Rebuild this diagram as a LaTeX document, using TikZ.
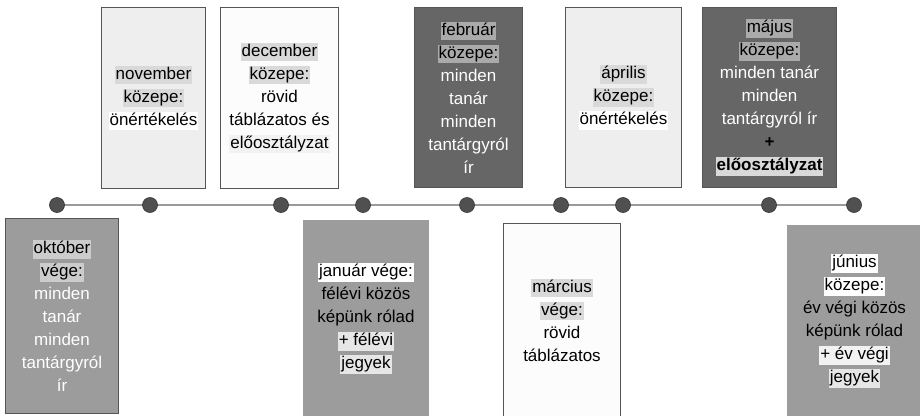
\documentclass[tikz,border=0pt]{standalone}
\usepackage{fontspec}
\setmainfont{Liberation Sans}
\definecolor{boxline}{HTML}{555555}
\definecolor{midgray}{HTML}{9C9C9C}
\definecolor{darkgray}{HTML}{666666}
\definecolor{palegray}{HTML}{EEEEEE}
\definecolor{whitish}{HTML}{FCFCFC}
\definecolor{hlA}{HTML}{CCCCCC}
\definecolor{hlB}{HTML}{D9D9D9}
\definecolor{hlC}{HTML}{AAAAAA}
\definecolor{hlD}{HTML}{E6E6E6}
\definecolor{hlE}{HTML}{F2F2F2}
\definecolor{dotfill}{HTML}{505050}
\definecolor{tline}{HTML}{9A9A9A}
\newcommand\hlt[2]{{\setlength{\fboxsep}{1pt}\colorbox{#1}{\rule[-4pt]{0pt}{16pt}#2}}}
\tikzset{
  evbox/.style={draw=boxline, line width=1pt, anchor=north west, inner sep=0pt,
    align=center, font=\fontsize{17}{23}\selectfont},
  tdot/.style={circle, fill=dotfill, draw=black!80, line width=0.6pt, minimum size=15pt, inner sep=0pt},
}
\begin{document}
\begin{tikzpicture}[x=1pt,y=-1pt]
\useasboundingbox (0,0) rectangle (920,415);
% timeline
\foreach \n/\x in {d1/57,d2/150,d3/281,d4/363,d5/467,d6/561,d7/623,d8/769,d9/854}
  \coordinate (\n) at (\x,205);
\draw[tline, line width=1.5pt] (d1) -- (d9);
\foreach \n in {d1,d2,d3,d4,d5,d6,d7,d8,d9}
  \node[tdot] (\n c) at (\n) {};
% boxes
\node[evbox, fill=midgray, minimum width=113, minimum height=195] (okt) at (5,218)
  {\hlt{hlA}{október}\\ \hlt{hlA}{vége:}\\ \textcolor{white}{minden}\\ \textcolor{white}{tanár}\\ \textcolor{white}{minden}\\ \textcolor{white}{tantárgyról}\\ \textcolor{white}{ír}};
\node[evbox, fill=palegray, minimum width=104, minimum height=181] (nov) at (101,7)
  {\hlt{hlB}{november}\\ \hlt{hlB}{közepe:}\\ \hlt{white}{önértékelés}};
\node[evbox, fill=whitish, minimum width=118, minimum height=181] (dec) at (220,7)
  {\hlt{hlB}{december}\\ \hlt{hlB}{közepe:}\\ rövid\\ táblázatos és\\ \hlt{hlE}{előosztályzat}};
\node[evbox, draw=midgray, fill=midgray, minimum width=125, minimum height=196] (jan) at (303,220)
  {\hlt{white}{január vége:}\\ félévi közös\\ képünk rólad\\ \hlt{hlD}{+ félévi}\\ \hlt{hlD}{jegyek}};
\node[evbox, fill=darkgray, minimum width=108, minimum height=180] (feb) at (414,7)
  {\hlt{hlC}{február}\\ \hlt{hlC}{közepe:}\\ \textcolor{white}{minden}\\ \textcolor{white}{tanár}\\ \textcolor{white}{minden}\\ \textcolor{white}{tantárgyról}\\ \textcolor{white}{ír}};
\node[evbox, fill=whitish, minimum width=117, minimum height=193] (mar) at (503,223)
  {\hlt{hlB}{március}\\ \hlt{hlB}{vége:}\\ rövid\\ táblázatos};
\node[evbox, fill=palegray, minimum width=116, minimum height=180] (apr) at (565,7)
  {\hlt{hlB}{április}\\ \hlt{hlB}{közepe:}\\ \hlt{white}{önértékelés}};
\node[evbox, fill=darkgray, minimum width=134, minimum height=180] (maj) at (702,7)
  {\hlt{hlC}{május}\\ \hlt{hlC}{közepe:}\\ \textcolor{white}{minden tanár}\\ \textcolor{white}{minden}\\ \textcolor{white}{tantárgyról ír}\\ \textbf{+}\\ \hlt{hlB}{\textbf{előosztályzat}}};
\node[evbox, draw=midgray, fill=midgray, minimum width=134, minimum height=191] (jun) at (787,225)
  {\hlt{white}{június}\\ \hlt{white}{közepe:}\\ év végi közös\\ képünk rólad\\ \hlt{hlE}{+ év végi}\\ \hlt{hlD}{jegyek}};
\end{tikzpicture}
\end{document}
